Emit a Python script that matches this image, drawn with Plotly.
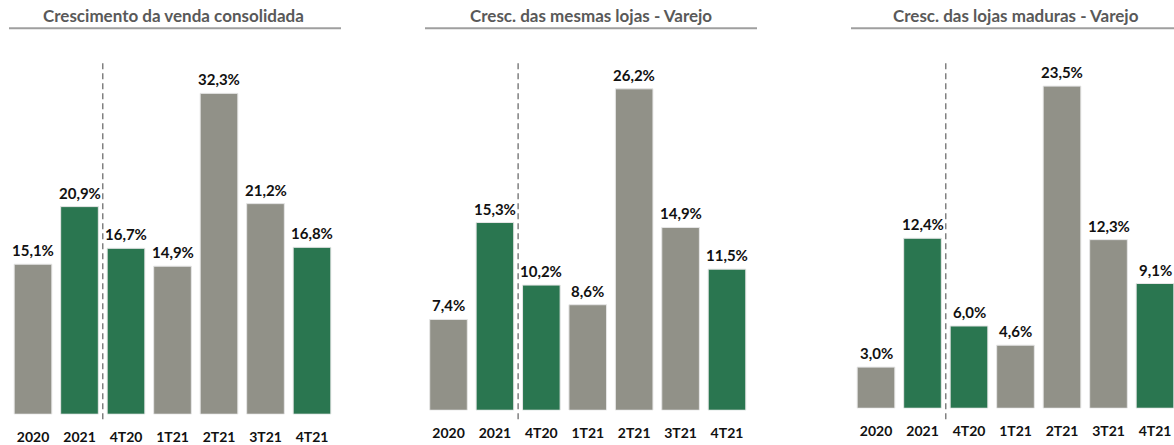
import plotly.graph_objects as go

categories = ["2020", "2021", "4T20", "1T21", "2T21", "3T21", "4T21"]
titles = ["Crescimento da venda consolidada", "Cresc. das mesmas lojas - Varejo", "Cresc. das lojas maduras - Varejo"]
venda_consolidada = [15.1, 20.9, 16.7, 14.9, 32.3, 21.2, 16.8]
mesmas_lojas = [7.4, 15.3, 10.2, 8.6, 26.2, 14.9, 11.5]
lojas_maduras = [3.0, 12.4, 6.0, 4.6, 23.5, 12.3, 9.1]
series = [venda_consolidada, mesmas_lojas, lojas_maduras]

GRAY = "#919188"
GREEN = "#2A7650"
bar_colors = [GRAY, GREEN, GREEN, GRAY, GRAY, GRAY, GREEN]

W, H = 1174, 445
FONT = "Lato"

# per panel geometry (pixels)
panels = [
    dict(x0=9.75, x1=335.25, xr=(-0.5, 6.5), bottom=417, ppu=10.0, tl=(9, 341), tc=173),
    dict(x0=425.3, x1=750.2, xr=(-0.5, 6.5), bottom=413, ppu=12.35, tl=(425, 757), tc=591),
    dict(x0=852.75, x1=1174, xr=(-0.5, 6.5 - 4.25 / 46.5), bottom=411, ppu=13.8, tl=(851, 1174), tc=1016),
]

fig = go.Figure()
shapes = []
annotations = []
for i, (p, vals) in enumerate(zip(panels, series)):
    n = "" if i == 0 else str(i + 1)
    fig.add_trace(go.Bar(
        x=list(range(len(categories))), y=vals,
        xaxis="x" + n, yaxis="y" + n,
        marker=dict(color=bar_colors, line=dict(color="#e6e6e6", width=1)),
        width=0.81,
        showlegend=False, hoverinfo="skip",
    ))
    for j, v in enumerate(vals):
        annotations.append(dict(
            text=f"{v:.1f}%".replace(".", ","), xref="x" + n, yref="y" + n,
            x=j, y=v, xanchor="center", yanchor="middle", yshift=14, showarrow=False,
            font=dict(family=FONT, size=15, color="#111111", weight="bold")))
    fig.update_layout(**{
        "xaxis" + n: dict(
            domain=[p["x0"] / W, p["x1"] / W], range=list(p["xr"]),
            tickmode="array", tickvals=list(range(len(categories))), ticktext=categories,
            showgrid=False, zeroline=False, showline=False,
            ticks="outside", ticklen=10, tickcolor="rgba(0,0,0,0)",
            tickfont=dict(family=FONT, size=14, color="#111111", weight="bold"),
            anchor="y" + n, fixedrange=True,
        ),
        "yaxis" + n: dict(
            domain=[1 - p["bottom"] / H, 1], range=[0, p["bottom"] / p["ppu"]],
            visible=False, anchor="x" + n, fixedrange=True,
        ),
    })
    # dashed separator between annual and quarterly values
    shapes.append(dict(type="line", xref="x" + n, yref="paper", x0=1.5, x1=1.5,
                       y0=1 - 422 / H, y1=1 - 63 / H,
                       line=dict(color="#808080", width=1.5, dash="6px,4px")))
    # title underline
    shapes.append(dict(type="line", xref="paper", yref="paper",
                       x0=p["tl"][0] / W, x1=p["tl"][1] / W, y0=1 - 28.5 / H, y1=1 - 28.5 / H,
                       line=dict(color="#9f9f9f", width=2)))
    annotations.append(dict(text=titles[i], xref="paper", yref="paper",
                            x=p["tc"] / W, y=1 - 16 / H, xanchor="center", yanchor="middle",
                            showarrow=False,
                            font=dict(family=FONT, size=17, color="#595959", weight="bold")))

fig.update_layout(
    width=W, height=H,
    margin=dict(l=0, r=0, t=0, b=0),
    paper_bgcolor="white", plot_bgcolor="white",
    shapes=shapes, annotations=annotations,
    bargap=0.2,
)
fig.write_html("out.html", config={"displayModeBar": False},
               post_script="document.body.style.margin='0';document.body.style.overflow='hidden';")
